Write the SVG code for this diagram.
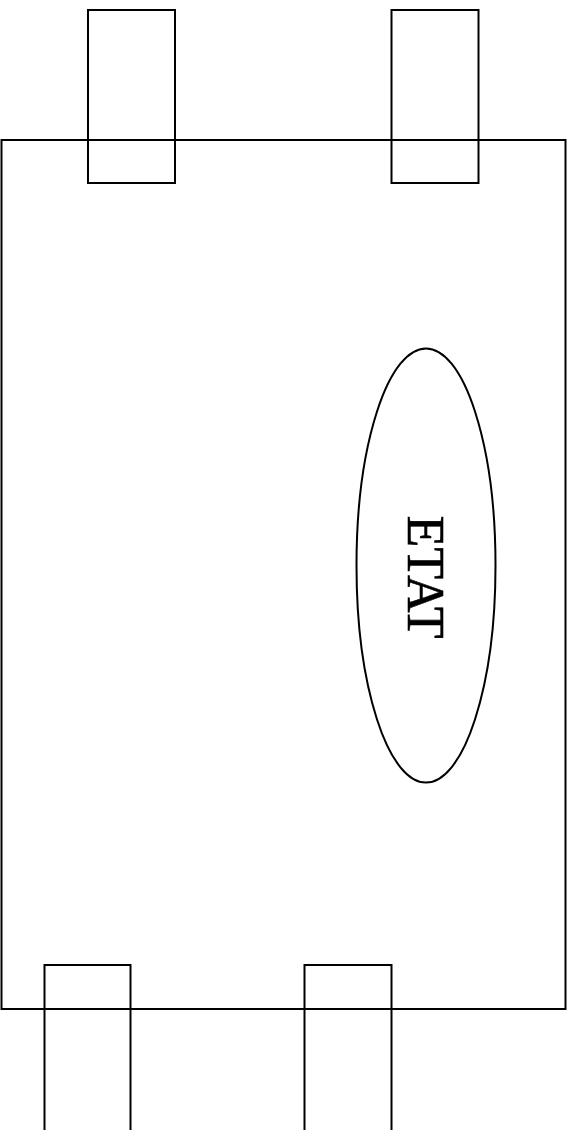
<svg xmlns="http://www.w3.org/2000/svg" width="574" height="1130" viewBox="0 0 574 1130">
<style>
.s{fill:none;stroke:#000;stroke-width:2}
.t{font-family:"Liberation Serif",serif;font-size:52px;fill:#000;stroke:#000;stroke-width:0.6}
</style>
<rect width="574" height="1130" fill="#fff"/>
<g id="body"><rect class="s" x="1.5" y="140" width="564" height="869"/></g>
<g id="pin-top-left"><rect class="s" x="88" y="10" width="87" height="173"/></g>
<g id="pin-top-right"><rect class="s" x="391.5" y="10" width="87" height="173"/></g>
<g id="pin-bottom-left"><rect class="s" x="44.5" y="965" width="86" height="175"/></g>
<g id="pin-bottom-right"><rect class="s" x="304.5" y="965" width="87" height="175"/></g>
<g id="etat"><ellipse class="s" cx="426" cy="565.5" rx="69.5" ry="217"/>
<text class="t" x="407.5" y="577" text-anchor="middle" transform="rotate(90 407.5 577)">ETAT</text></g>
<g id="connectors"></g>
</svg>
